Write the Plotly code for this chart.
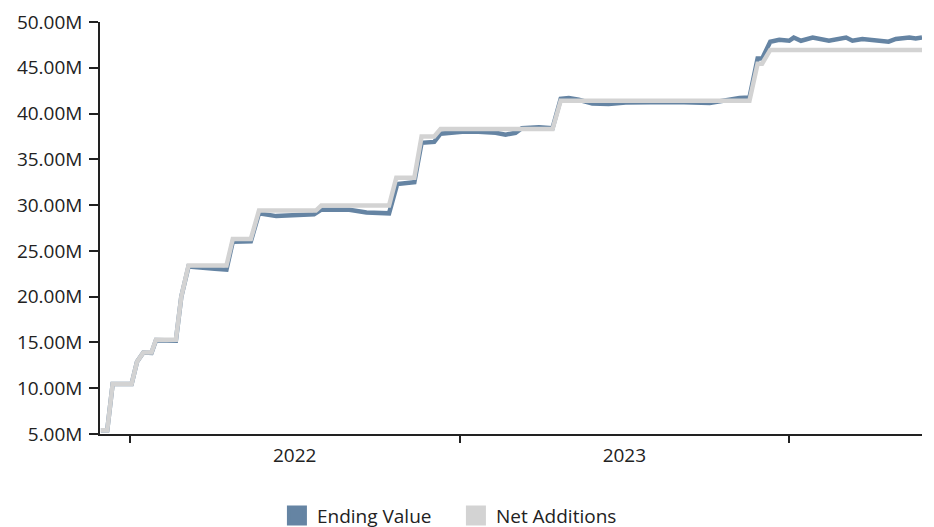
import plotly.graph_objects as go

# Net Additions (gray) breakpoints
net_dates = [
    "2021-11-30", "2021-12-07", "2021-12-13", "2022-01-03", "2022-01-09", "2022-01-16",
    "2022-01-25", "2022-01-30", "2022-02-21", "2022-02-27", "2022-03-07", "2022-04-18",
    "2022-04-25", "2022-05-15", "2022-05-24", "2022-07-26", "2022-08-01", "2022-10-15",
    "2022-10-23", "2022-11-12", "2022-11-20", "2022-12-04", "2022-12-11", "2023-04-14",
    "2023-04-23", "2023-11-18", "2023-11-27", "2023-12-02", "2023-12-11", "2024-05-27",
]
net_values = [
    5.4, 5.4, 10.45, 10.45, 12.9, 13.9,
    13.9, 15.3, 15.3, 20.0, 23.4, 23.4,
    26.3, 26.3, 29.4, 29.4, 29.95, 29.95,
    33.0, 33.0, 37.5, 37.5, 38.3, 38.3,
    41.4, 41.4, 45.45, 45.45, 46.95, 46.95,
]

# Ending Value (blue)
end_dates = [
    "2021-11-30", "2021-12-07", "2021-12-13", "2022-01-03", "2022-01-09", "2022-01-16",
    "2022-01-25", "2022-01-30", "2022-02-21", "2022-02-27", "2022-03-07", "2022-03-20",
    "2022-04-05", "2022-04-18", "2022-04-25", "2022-05-15", "2022-05-24", "2022-06-12",
    "2022-07-08", "2022-07-24", "2022-08-01", "2022-09-01", "2022-09-20", "2022-10-15",
    "2022-10-24", "2022-11-12", "2022-11-20", "2022-12-04", "2022-12-11", "2023-01-04",
    "2023-01-22", "2023-02-10", "2023-02-21", "2023-03-04", "2023-03-11", "2023-03-30",
    "2023-04-14", "2023-04-23", "2023-05-02", "2023-05-13", "2023-05-28", "2023-06-15",
    "2023-07-04", "2023-07-22", "2023-08-28", "2023-10-05", "2023-10-23", "2023-11-07",
    "2023-11-18", "2023-11-27", "2023-12-02", "2023-12-11", "2023-12-21", "2023-12-28",
    "2024-01-01", "2024-01-06", "2024-01-14", "2024-01-27", "2024-02-14", "2024-03-04",
    "2024-03-11", "2024-03-22", "2024-04-09", "2024-04-20", "2024-04-28", "2024-05-13",
    "2024-05-20", "2024-05-27",
]
end_values = [
    5.4, 5.4, 10.45, 10.45, 12.9, 13.9,
    13.85, 15.25, 15.2, 20.0, 23.3, 23.15,
    23.05, 22.95, 26.0, 26.05, 29.1, 28.8,
    28.9, 29.0, 29.5, 29.5, 29.2, 29.1,
    32.3, 32.5, 36.8, 36.9, 37.8, 38.0,
    38.0, 37.9, 37.7, 37.9, 38.4, 38.5,
    38.4, 41.6, 41.7, 41.5, 41.1, 41.05,
    41.2, 41.25, 41.25, 41.15, 41.5, 41.7,
    41.75, 46.0, 46.0, 47.85, 48.05, 48.05,
    47.95, 48.3, 47.95, 48.3, 47.95, 48.3,
    47.95, 48.15, 47.95, 47.85, 48.15, 48.3,
    48.2, 48.3,
]

y_tick_vals = [5, 10, 15, 20, 25, 30, 35, 40, 45, 50]
y_tick_text = ["5.00M", "10.00M", "15.00M", "20.00M", "25.00M", "30.00M",
               "35.00M", "40.00M", "45.00M", "50.00M"]

series_names = ["Ending Value", "Net Additions"]
series_colors = ["#6584a3", "#d3d3d3"]

fig = go.Figure()
fig.add_trace(go.Scatter(x=end_dates, y=[v * 1e6 for v in end_values], mode="lines",
                         line=dict(color=series_colors[0], width=4.5), showlegend=False))
fig.add_trace(go.Scatter(x=net_dates, y=[v * 1e6 for v in net_values], mode="lines",
                         line=dict(color=series_colors[1], width=4.5), showlegend=False))
for name, col in zip(series_names, series_colors):
    fig.add_trace(go.Scatter(x=[None], y=[None], mode="markers", name=name,
                             marker=dict(symbol="square", size=16, color=col,
                                         line=dict(color=col, width=4))))

fig.update_layout(
    width=934, height=527,
    margin=dict(l=92, r=20, t=14, b=101, autoexpand=False),
    paper_bgcolor="white", plot_bgcolor="white",
    font=dict(family="Open Sans", size=19, color="#222"),
    legend=dict(orientation="h", x=0.433, xanchor="center", y=-0.198, yanchor="middle",
                entrywidth=134, font=dict(size=19, color="#222")),
    hovermode=False,
)
fig.update_xaxes(
    type="date", range=["2021-11-29", "2024-05-27"],
    showgrid=False, zeroline=False,
    showline=True, linecolor="#222", linewidth=1.5,
    ticks="outside", ticklen=7, tickcolor="#222", tickwidth=1.5,
    dtick="M12", tick0="2022-01-01", tickformat="%Y", ticklabelmode="period",
    ticklabelstandoff=-4,
)
fig.update_yaxes(
    range=[5e6, 50e6],
    showgrid=False, zeroline=False,
    showline=True, linecolor="#222", linewidth=1.5,
    ticks="outside", ticklen=9, tickcolor="#222", tickwidth=1.5,
    tickvals=[v * 1e6 for v in y_tick_vals], ticktext=y_tick_text,
    ticklabelstandoff=3, ticklabeloverflow="allow",
)

fig.write_html("out.html")
